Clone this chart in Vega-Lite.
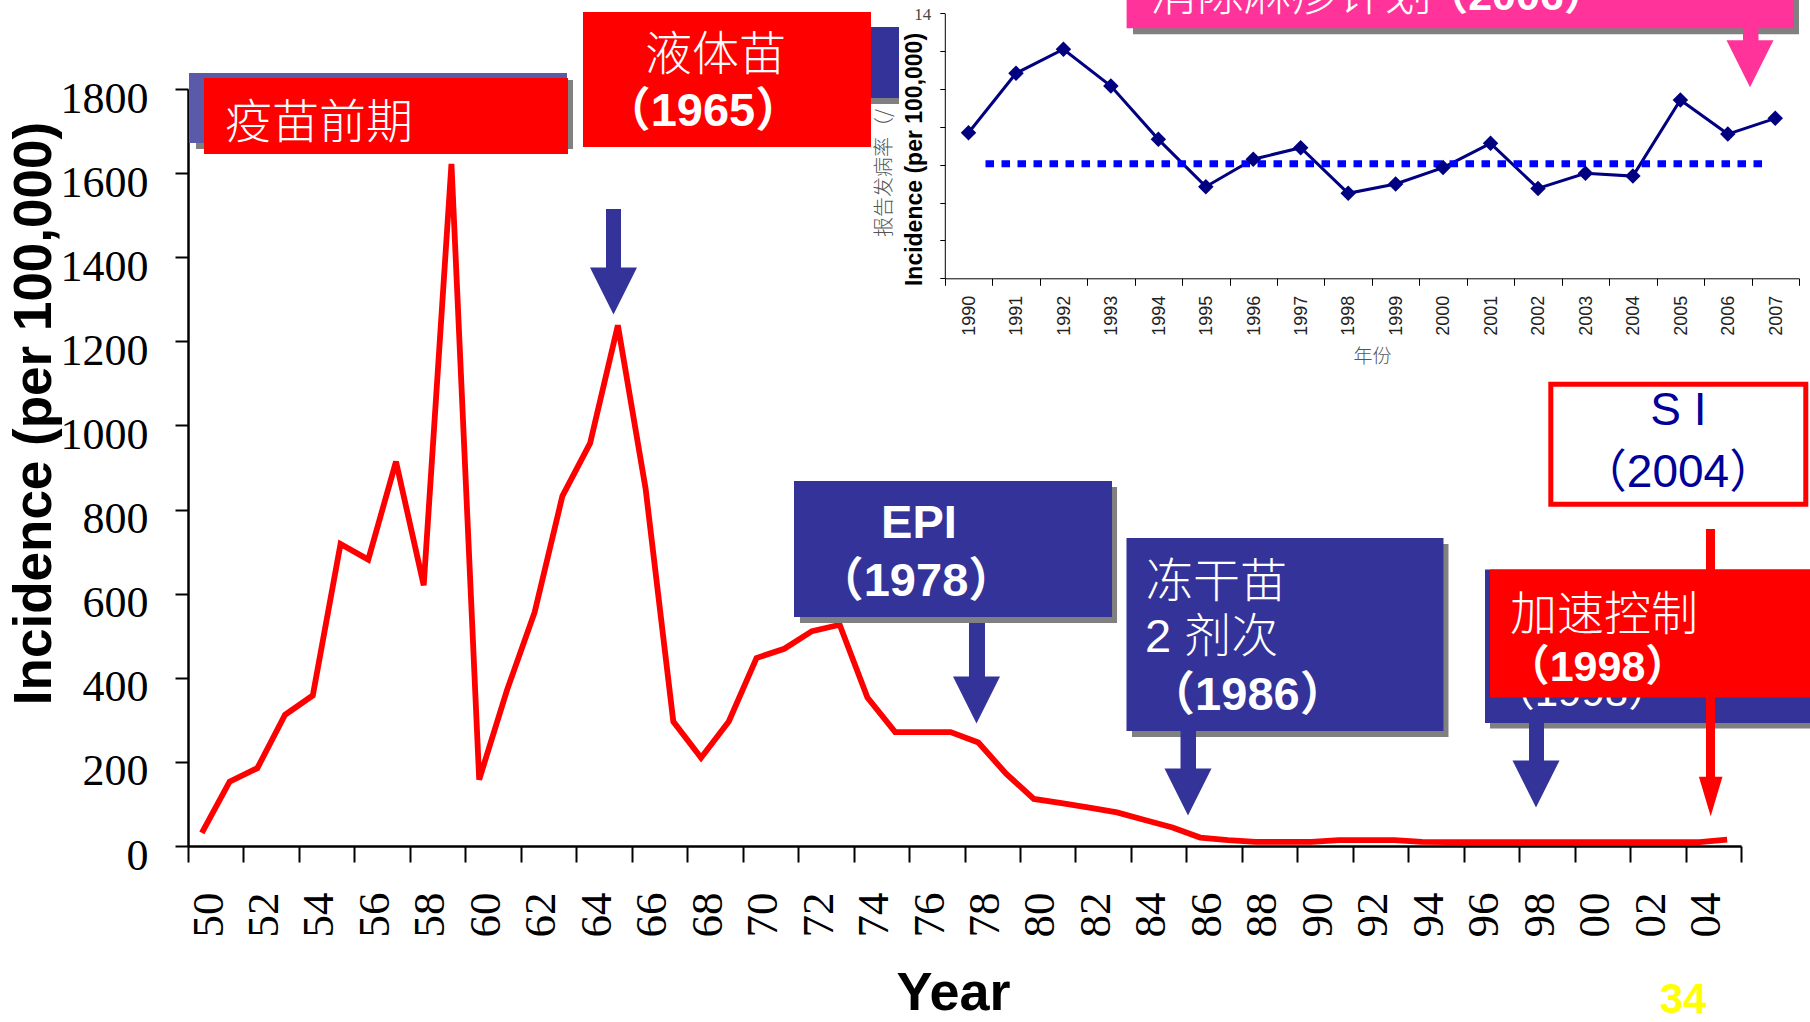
{
  "$schema": "https://vega.github.io/schema/vega-lite/v6.json",
  "width": 1810,
  "height": 1022,
  "autosize": {"type": "none"},
  "padding": 0,
  "background": "white",
  "config": {"view": {"stroke": null}},
  "datasets": {
    "main": [
      {"year": 1950, "value": 31}, {"year": 1951, "value": 153}, {"year": 1952, "value": 185},
      {"year": 1953, "value": 312}, {"year": 1954, "value": 358}, {"year": 1955, "value": 718},
      {"year": 1956, "value": 681}, {"year": 1957, "value": 914}, {"year": 1958, "value": 620},
      {"year": 1959, "value": 1622}, {"year": 1960, "value": 158}, {"year": 1961, "value": 370},
      {"year": 1962, "value": 556}, {"year": 1963, "value": 832}, {"year": 1964, "value": 958},
      {"year": 1965, "value": 1238}, {"year": 1966, "value": 850}, {"year": 1967, "value": 296},
      {"year": 1968, "value": 210}, {"year": 1969, "value": 296}, {"year": 1970, "value": 447},
      {"year": 1971, "value": 469}, {"year": 1972, "value": 511}, {"year": 1973, "value": 526},
      {"year": 1974, "value": 353}, {"year": 1975, "value": 271}, {"year": 1976, "value": 271},
      {"year": 1977, "value": 271}, {"year": 1978, "value": 246}, {"year": 1979, "value": 172},
      {"year": 1980, "value": 112}, {"year": 1981, "value": 102}, {"year": 1982, "value": 91},
      {"year": 1983, "value": 80}, {"year": 1984, "value": 62}, {"year": 1985, "value": 44},
      {"year": 1986, "value": 20}, {"year": 1987, "value": 14}, {"year": 1988, "value": 10},
      {"year": 1989, "value": 10}, {"year": 1990, "value": 10}, {"year": 1991, "value": 14},
      {"year": 1992, "value": 14}, {"year": 1993, "value": 14}, {"year": 1994, "value": 10},
      {"year": 1995, "value": 9}, {"year": 1996, "value": 9}, {"year": 1997, "value": 9},
      {"year": 1998, "value": 9}, {"year": 1999, "value": 9}, {"year": 2000, "value": 9},
      {"year": 2001, "value": 9}, {"year": 2002, "value": 9}, {"year": 2003, "value": 9},
      {"year": 2004, "value": 9}, {"year": 2005, "value": 15}
    ],
    "inset": [
      {"year": 1990, "value": 7.69}, {"year": 1991, "value": 10.83}, {"year": 1992, "value": 12.1},
      {"year": 1993, "value": 10.16}, {"year": 1994, "value": 7.34}, {"year": 1995, "value": 4.84},
      {"year": 1996, "value": 6.29}, {"year": 1997, "value": 6.9}, {"year": 1998, "value": 4.49},
      {"year": 1999, "value": 4.98}, {"year": 2000, "value": 5.85}, {"year": 2001, "value": 7.13},
      {"year": 2002, "value": 4.75}, {"year": 2003, "value": 5.55}, {"year": 2004, "value": 5.4},
      {"year": 2005, "value": 9.42}, {"year": 2006, "value": 7.62}, {"year": 2007, "value": 8.45}
    ],
    "rectsA": [
      {"k": "shadow", "x1": 1949.788, "x2": 1963.383, "y1": 1821.40, "y2": 1657.33},
      {"k": "lightblue", "x1": 1949.536, "x2": 1963.166, "y1": 1838.05, "y2": 1671.60},
      {"k": "red", "x1": 1950.077, "x2": 1963.202, "y1": 1826.16, "y2": 1645.44},
      {"k": "shadow", "x1": 1964.573, "x2": 1975.138, "y1": 1933.16, "y2": 1764.33},
      {"k": "blue", "x1": 1964.356, "x2": 1975.138, "y1": 1947.43, "y2": 1778.60},
      {"k": "red", "x1": 1963.743, "x2": 1974.128, "y1": 1983.09, "y2": 1662.09},
      {"k": "shadow", "x1": 1971.568, "x2": 1983.0, "y1": 853.63, "y2": 530.25},
      {"k": "blue", "x1": 1971.352, "x2": 1982.819, "y1": 867.90, "y2": 544.52},
      {"k": "shadow", "x1": 1983.540, "x2": 1994.952, "y1": 718.10, "y2": 259.18},
      {"k": "blue", "x1": 1983.341, "x2": 1994.772, "y1": 732.37, "y2": 273.45},
      {"k": "shadow", "x1": 1996.449, "x2": 2008.204, "y1": 642.01, "y2": 279.39},
      {"k": "blue", "x1": 1996.269, "x2": 2008.060, "y1": 657.46, "y2": 292.47}
    ],
    "rectsB": [
      {"k": "red", "x1": 1996.449, "x2": 2008.060, "y1": 657.46, "y2": 353.10},
      {"k": "shadow", "x1": 1983.576, "x2": 2007.591, "y1": 2023.52, "y2": 1930.07},
      {"k": "pink", "x1": 1983.345, "x2": 2007.393, "y1": 2023.52, "y2": 1944.34},
      {"k": "blue", "x1": 1964.573, "x2": 1965.114, "y1": 1514.66, "y2": 1372.0},
      {"k": "blue", "x1": 1977.662, "x2": 1978.239, "y1": 530.25, "y2": 399.5},
      {"k": "blue", "x1": 1985.289, "x2": 1985.847, "y1": 273.45, "y2": 183.0},
      {"k": "blue", "x1": 1997.855, "x2": 1998.396, "y1": 292.47, "y2": 197.5},
      {"k": "red", "x1": 2004.238, "x2": 2004.562, "y1": 753.77, "y2": 159.5},
      {"k": "pink", "x1": 2005.572, "x2": 2006.131, "y1": 1945.05, "y2": 1912.0}
    ],
    "si": [{"x1": 1998.642, "x2": 2007.836, "y1": 1098.07, "y2": 812.74}],
    "heads": [
      {"k": "blue", "x": 1964.843, "y": 1319.68},
      {"k": "blue", "x": 1977.933, "y": 347.16},
      {"k": "blue", "x": 1985.559, "y": 128.40},
      {"k": "blue", "x": 1998.108, "y": 147.42},
      {"k": "pink", "x": 2005.824, "y": 1860.16}
    ],
    "redhead": [{"x": 2004.407, "y": 117.70}],
    "cjk": [
      {"t": "疫苗前期", "x": 1950.834, "y": 1726.29},
      {"t": "液体苗", "x": 1965.979, "y": 1888.00},
      {"t": "冻干苗", "x": 1984.045, "y": 634.88},
      {"t": "2 剂次", "x": 1984.009, "y": 502.91},
      {"t": "加速控制", "x": 1997.170, "y": 557.12},
      {"t": "消除麻疹计划", "x": 1984.189, "y": 2030.65}
    ],
    "bold47": [
      {"t": "（1965）", "x": 1968.070, "y": 1752.45},
      {"t": "EPI", "x": 1975.859, "y": 771.60},
      {"t": "（1978）", "x": 1975.751, "y": 634.88},
      {"t": "（1986）", "x": 1987.701, "y": 363.80}
    ],
    "bold43": [
      {"t": "（1998）", "x": 2000.325, "y": 430.38},
      {"t": "（2006）", "x": 1997.386, "y": 2026.61}
    ],
    "partial": [{"t": "（1998）", "x": 1999.748, "y": 370.94}],
    "sitext": [
      {"t": "S I", "x": 2003.239, "y": 1040.77},
      {"t": "（2004）", "x": 2003.228, "y": 894.06}
    ],
    "page": [{"t": "34", "x": 2003.408, "y": -359.05}],
    "dotted": [{"x1": 1990.358, "x2": 2006.741, "y": 6.05}],
    "greytext": [{"t": "报告发病率（/", "x": 1988.250, "y": 2.182}]
  },
  "layer": [
    {
      "layer": [
        {
          "data": {"name": "main"},
          "mark": {"type": "line", "color": "#ff0000", "strokeWidth": 5.8},
          "encoding": {
            "x": {
              "field": "year", "type": "quantitative",
              "scale": {"domain": [1949.5, 2005.5], "range": [188, 1741], "nice": false, "zero": false},
              "axis": {
                "orient": "bottom", "offset": -176,
                "values": [1949.5,1950.5,1951.5,1952.5,1953.5,1954.5,1955.5,1956.5,1957.5,1958.5,1959.5,1960.5,1961.5,1962.5,1963.5,1964.5,1965.5,1966.5,1967.5,1968.5,1969.5,1970.5,1971.5,1972.5,1973.5,1974.5,1975.5,1976.5,1977.5,1978.5,1979.5,1980.5,1981.5,1982.5,1983.5,1984.5,1985.5,1986.5,1987.5,1988.5,1989.5,1990.5,1991.5,1992.5,1993.5,1994.5,1995.5,1996.5,1997.5,1998.5,1999.5,2000.5,2001.5,2002.5,2003.5,2004.5,2005.5],
                "labelExpr": "(datum.value + 0.5) % 2 == 0 && datum.value < 2005 ? slice(toString(datum.value + 0.5), 2) : ''",
                "labelAngle": 270, "labelAlign": "right", "labelBaseline": "middle",
                "labelOffset": 20, "labelPadding": 30,
                "labelFont": "Liberation Serif", "labelFontSize": 45, "labelColor": "black",
                "labelOverlap": false, "labelFlush": false, "labelBound": false,
                "tickSize": 16, "tickWidth": 2, "tickColor": "black",
                "domainWidth": 2.5, "domainColor": "black", "grid": false,
                "title": "Year", "titleFont": "Liberation Sans", "titleFontSize": 54,
                "titleFontWeight": "bold", "titleColor": "black",
                "titleX": 953, "titleY": 163, "titleBaseline": "alphabetic", "titleAlign": "center"
              }
            },
            "y": {
              "field": "value", "type": "quantitative",
              "scale": {"domain": [0, 1800], "range": [846, 89], "nice": false, "zero": false},
              "axis": {
                "orient": "left", "offset": -188,
                "values": [0, 200, 400, 600, 800, 1000, 1200, 1400, 1600, 1800],
                "format": "d",
                "labelFont": "Liberation Serif", "labelFontSize": 44, "labelColor": "black",
                "labelPadding": 27, "labelOffset": 10, "labelBaseline": "middle", "labelAlign": "right",
                "labelOverlap": false, "labelFlush": false,
                "tickSize": 13, "tickWidth": 2, "tickColor": "black",
                "domainWidth": 2.5, "domainColor": "black", "grid": false,
                "title": "Incidence (per 100,000)", "titleFont": "Liberation Sans",
                "titleFontSize": 53, "titleFontWeight": "bold", "titleColor": "black",
                "titleAngle": 270, "titleX": -138, "titleY": 413,
                "titleBaseline": "alphabetic", "titleAlign": "center"
              }
            }
          }
        },
        {
          "data": {"name": "rectsA"},
          "mark": {"type": "rect", "strokeWidth": 0},
          "encoding": {
            "x": {"field": "x1", "type": "quantitative", "scale": {"domain": [1949.5, 2005.5], "range": [188, 1741], "nice": false, "zero": false}},
            "x2": {"field": "x2"},
            "y": {"field": "y1", "type": "quantitative", "scale": {"domain": [0, 1800], "range": [846, 89], "nice": false, "zero": false}},
            "y2": {"field": "y2"},
            "color": {"field": "k", "type": "nominal", "legend": null,
              "scale": {"domain": ["shadow", "blue", "lightblue", "red", "pink"], "range": ["#808080", "#333399", "#5a5aa8", "#ff0000", "#ff3399"]}}
          }
        },
        {
          "data": {"name": "partial"},
          "mark": {"type": "text", "font": "Liberation Sans, Noto Sans CJK SC", "fontSize": 42, "color": "white", "align": "center", "baseline": "middle", "dy": 3},
          "encoding": {
            "x": {"field": "x", "type": "quantitative", "scale": {"domain": [1949.5, 2005.5], "range": [188, 1741], "nice": false, "zero": false}},
            "y": {"field": "y", "type": "quantitative", "scale": {"domain": [0, 1800], "range": [846, 89], "nice": false, "zero": false}},
            "text": {"field": "t"}
          }
        },
        {
          "data": {"name": "rectsB"},
          "mark": {"type": "rect", "strokeWidth": 0},
          "encoding": {
            "x": {"field": "x1", "type": "quantitative", "scale": {"domain": [1949.5, 2005.5], "range": [188, 1741], "nice": false, "zero": false}},
            "x2": {"field": "x2"},
            "y": {"field": "y1", "type": "quantitative", "scale": {"domain": [0, 1800], "range": [846, 89], "nice": false, "zero": false}},
            "y2": {"field": "y2"},
            "color": {"field": "k", "type": "nominal", "legend": null,
              "scale": {"domain": ["shadow", "blue", "lightblue", "red", "pink"], "range": ["#808080", "#333399", "#5a5aa8", "#ff0000", "#ff3399"]}}
          }
        },
        {
          "data": {"name": "si"},
          "mark": {"type": "rect", "fill": "white", "stroke": "#ff0000", "strokeWidth": 5},
          "encoding": {
            "x": {"field": "x1", "type": "quantitative", "scale": {"domain": [1949.5, 2005.5], "range": [188, 1741], "nice": false, "zero": false}},
            "x2": {"field": "x2"},
            "y": {"field": "y1", "type": "quantitative", "scale": {"domain": [0, 1800], "range": [846, 89], "nice": false, "zero": false}},
            "y2": {"field": "y2"}
          }
        },
        {
          "data": {"name": "heads"},
          "mark": {"type": "point", "filled": true, "opacity": 1, "strokeWidth": 0, "shape": "M-1,-1L1,-1L0,1Z", "size": 2209},
          "encoding": {
            "x": {"field": "x", "type": "quantitative", "scale": {"domain": [1949.5, 2005.5], "range": [188, 1741], "nice": false, "zero": false}},
            "y": {"field": "y", "type": "quantitative", "scale": {"domain": [0, 1800], "range": [846, 89], "nice": false, "zero": false}},
            "color": {"field": "k", "type": "nominal", "legend": null,
              "scale": {"domain": ["shadow", "blue", "lightblue", "red", "pink"], "range": ["#808080", "#333399", "#5a5aa8", "#ff0000", "#ff3399"]}}
          }
        },
        {
          "data": {"name": "redhead"},
          "mark": {"type": "point", "filled": true, "opacity": 1, "strokeWidth": 0, "shape": "M-0.6,-1L0.6,-1L0,1Z", "size": 1544, "color": "#ff0000"},
          "encoding": {
            "x": {"field": "x", "type": "quantitative", "scale": {"domain": [1949.5, 2005.5], "range": [188, 1741], "nice": false, "zero": false}},
            "y": {"field": "y", "type": "quantitative", "scale": {"domain": [0, 1800], "range": [846, 89], "nice": false, "zero": false}}
          }
        },
        {
          "data": {"name": "cjk"},
          "mark": {"type": "text", "font": "Liberation Sans, Noto Sans CJK SC", "fontSize": 47, "fontWeight": 300, "color": "white", "align": "left", "baseline": "middle", "dy": 4},
          "encoding": {
            "x": {"field": "x", "type": "quantitative", "scale": {"domain": [1949.5, 2005.5], "range": [188, 1741], "nice": false, "zero": false}},
            "y": {"field": "y", "type": "quantitative", "scale": {"domain": [0, 1800], "range": [846, 89], "nice": false, "zero": false}},
            "text": {"field": "t"}
          }
        },
        {
          "data": {"name": "bold47"},
          "mark": {"type": "text", "font": "Liberation Sans, Noto Sans CJK SC", "fontSize": 47, "fontWeight": "bold", "color": "white", "align": "center", "baseline": "middle", "dy": 3},
          "encoding": {
            "x": {"field": "x", "type": "quantitative", "scale": {"domain": [1949.5, 2005.5], "range": [188, 1741], "nice": false, "zero": false}},
            "y": {"field": "y", "type": "quantitative", "scale": {"domain": [0, 1800], "range": [846, 89], "nice": false, "zero": false}},
            "text": {"field": "t"}
          }
        },
        {
          "data": {"name": "bold43"},
          "mark": {"type": "text", "font": "Liberation Sans, Noto Sans CJK SC", "fontSize": 43, "fontWeight": "bold", "color": "white", "align": "center", "baseline": "middle", "dy": 3},
          "encoding": {
            "x": {"field": "x", "type": "quantitative", "scale": {"domain": [1949.5, 2005.5], "range": [188, 1741], "nice": false, "zero": false}},
            "y": {"field": "y", "type": "quantitative", "scale": {"domain": [0, 1800], "range": [846, 89], "nice": false, "zero": false}},
            "text": {"field": "t"}
          }
        },
        {
          "data": {"name": "sitext"},
          "mark": {"type": "text", "font": "Liberation Sans, Noto Sans CJK SC", "fontSize": 46, "color": "#000099", "align": "center", "baseline": "middle", "dy": 3},
          "encoding": {
            "x": {"field": "x", "type": "quantitative", "scale": {"domain": [1949.5, 2005.5], "range": [188, 1741], "nice": false, "zero": false}},
            "y": {"field": "y", "type": "quantitative", "scale": {"domain": [0, 1800], "range": [846, 89], "nice": false, "zero": false}},
            "text": {"field": "t"}
          }
        },
        {
          "data": {"name": "page"},
          "mark": {"type": "text", "font": "Liberation Sans", "fontSize": 42, "fontWeight": "bold", "color": "#ffff00", "align": "center", "baseline": "middle", "dy": 3},
          "encoding": {
            "x": {"field": "x", "type": "quantitative", "scale": {"domain": [1949.5, 2005.5], "range": [188, 1741], "nice": false, "zero": false}},
            "y": {"field": "y", "type": "quantitative", "scale": {"domain": [0, 1800], "range": [846, 89], "nice": false, "zero": false}},
            "text": {"field": "t"}
          }
        }
      ]
    },
    {
      "layer": [
        {
          "data": {"name": "inset"},
          "mark": {"type": "line", "color": "#000080", "strokeWidth": 3},
          "encoding": {
            "x": {
              "field": "year", "type": "quantitative",
              "scale": {"domain": [1989.5, 2007.5], "range": [944.8, 1799], "nice": false, "zero": false},
              "axis": {
                "orient": "bottom", "offset": -743.7,
                "values": [1989.5,1990.5,1991.5,1992.5,1993.5,1994.5,1995.5,1996.5,1997.5,1998.5,1999.5,2000.5,2001.5,2002.5,2003.5,2004.5,2005.5,2006.5,2007.5],
                "labelExpr": "datum.value < 2007 ? toString(datum.value + 0.5) : ''",
                "labelAngle": 270, "labelAlign": "right", "labelBaseline": "middle",
                "labelOffset": 24.5, "labelPadding": 10,
                "labelFont": "Liberation Sans", "labelFontSize": 18, "labelColor": "#222222",
                "labelOverlap": false, "labelFlush": false, "labelBound": false,
                "tickSize": 7, "tickWidth": 1, "tickColor": "black",
                "domainWidth": 1, "domainColor": "black", "grid": false,
                "title": "年份", "titleFont": "Noto Sans CJK SC", "titleFontSize": 19,
                "titleFontWeight": 300, "titleColor": "#555555",
                "titleX": 1372, "titleY": 78, "titleBaseline": "middle", "titleAlign": "center"
              }
            },
            "y": {
              "field": "value", "type": "quantitative",
              "scale": {"domain": [0, 14], "range": [278.3, 13.3], "nice": false, "zero": false},
              "axis": {
                "orient": "left", "offset": -944.8,
                "values": [0, 2, 4, 6, 8, 10, 12, 14],
                "labelExpr": "datum.value == 14 ? '14' : ''",
                "labelFont": "Liberation Serif", "labelFontSize": 17, "labelColor": "#444444",
                "labelPadding": 9, "labelOffset": 1, "labelBaseline": "middle",
                "labelOverlap": false, "labelFlush": false,
                "tickSize": 5, "tickWidth": 1, "tickColor": "black",
                "domainWidth": 1, "domainColor": "black", "grid": false,
                "title": "Incidence (per 100,000)", "titleFont": "Liberation Sans",
                "titleFontSize": 23, "titleFontWeight": "bold", "titleColor": "black",
                "titleAngle": 270, "titleX": -23, "titleY": 159,
                "titleBaseline": "alphabetic", "titleAlign": "center"
              }
            }
          }
        },
        {
          "data": {"name": "dotted"},
          "mark": {"type": "rule", "color": "#0000ff", "strokeWidth": 7, "strokeDash": [8.5, 7.5], "strokeCap": "butt"},
          "encoding": {
            "x": {"field": "x1", "type": "quantitative", "scale": {"domain": [1989.5, 2007.5], "range": [944.8, 1799], "nice": false, "zero": false}},
            "x2": {"field": "x2"},
            "y": {"field": "y", "type": "quantitative", "scale": {"domain": [0, 14], "range": [278.3, 13.3], "nice": false, "zero": false}}
          }
        },
        {
          "data": {"name": "inset"},
          "mark": {"type": "point", "shape": "diamond", "filled": true, "opacity": 1, "size": 240, "color": "#000080", "strokeWidth": 0},
          "encoding": {
            "x": {"field": "year", "type": "quantitative", "scale": {"domain": [1989.5, 2007.5], "range": [944.8, 1799], "nice": false, "zero": false}},
            "y": {"field": "value", "type": "quantitative", "scale": {"domain": [0, 14], "range": [278.3, 13.3], "nice": false, "zero": false}}
          }
        },
        {
          "data": {"name": "greytext"},
          "mark": {"type": "text", "font": "Noto Sans CJK SC", "fontSize": 20, "fontWeight": 300, "color": "#555555", "align": "left", "baseline": "middle", "angle": 270},
          "encoding": {
            "x": {"field": "x", "type": "quantitative", "scale": {"domain": [1989.5, 2007.5], "range": [944.8, 1799], "nice": false, "zero": false}},
            "y": {"field": "y", "type": "quantitative", "scale": {"domain": [0, 14], "range": [278.3, 13.3], "nice": false, "zero": false}},
            "text": {"field": "t"}
          }
        }
      ]
    }
  ],
  "resolve": {"scale": {"x": "independent", "y": "independent"}, "axis": {"x": "independent", "y": "independent"}}
}
